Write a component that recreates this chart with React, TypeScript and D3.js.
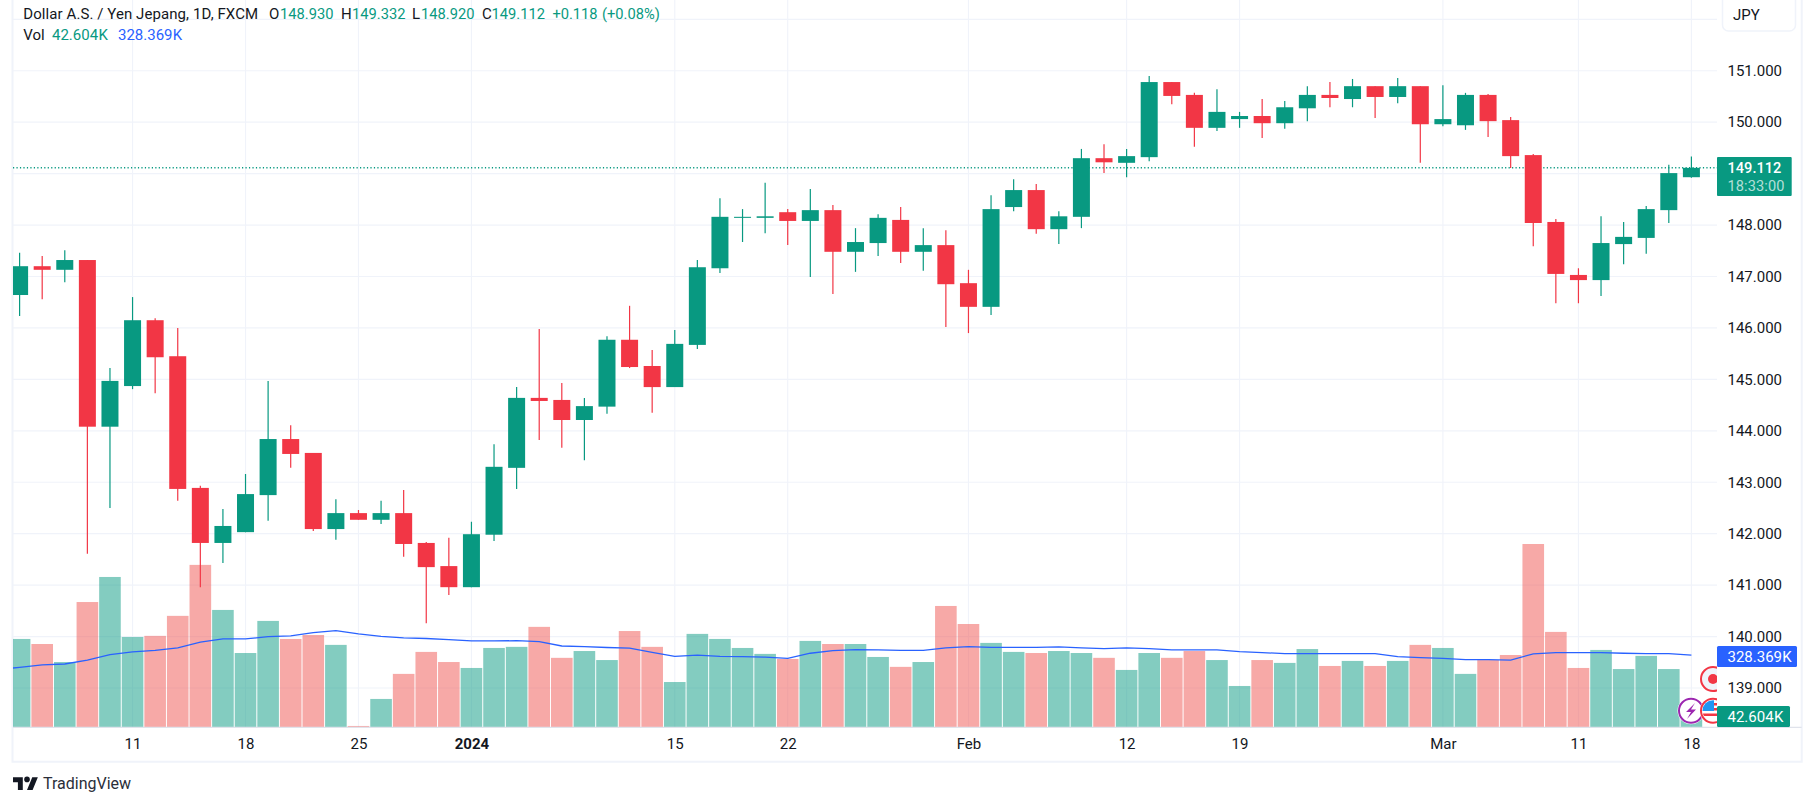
import * as d3 from "d3";
import { useEffect, useRef } from "react";

// daily bars, 4 Dec 2023 .. 18 Mar 2024
const opens = [146.64,147.2,147.13,147.32,144.08,144.87,146.15,145.45,142.89,141.82,142.03,142.75,143.84,143.57,142.09,142.4,142.27,142.4,141.82,141.37,140.96,141.98,143.28,144.64,144.6,144.21,144.47,145.77,145.26,144.85,145.67,147.16,148.14,148.14,148.25,148.08,148.29,147.48,147.65,148.1,147.48,147.61,146.87,146.41,148.35,148.68,147.92,148.16,149.3,149.21,149.32,150.78,150.53,149.89,150.06,150.12,149.98,150.27,150.53,150.45,150.7,150.49,150.7,149.96,149.94,150.53,150.04,149.36,148.06,147.03,146.93,147.63,147.75,148.29,148.93];
const closes = [147.2,147.13,147.32,144.08,144.97,146.15,145.43,142.87,141.82,142.15,142.77,143.84,143.55,142.09,142.4,142.27,142.4,141.8,141.35,140.96,141.99,143.3,144.64,144.58,144.21,144.48,145.77,145.24,144.85,145.69,147.18,148.16,148.16,148.17,148.08,148.29,147.48,147.67,148.14,147.48,147.61,146.85,146.41,148.31,148.68,147.92,148.17,149.3,149.22,149.34,150.78,150.51,149.89,150.2,150.12,149.98,150.29,150.53,150.47,150.7,150.49,150.7,149.96,150.06,150.53,150.02,149.34,148.04,147.05,146.93,147.65,147.77,148.31,149.01,149.112];
const highs = [147.46,147.4,147.51,147.32,145.22,146.6,146.19,146,142.93,142.48,143.16,144.97,144.11,143.57,142.67,142.46,142.64,142.85,141.84,141.92,142.23,143.74,144.85,145.98,144.93,144.64,145.84,146.43,145.57,145.96,147.32,148.52,148.31,148.82,148.31,148.7,148.39,147.94,148.21,148.35,147.94,147.9,147.13,148.58,148.89,148.8,148.27,149.48,149.57,149.48,150.9,150.78,150.57,150.64,150.2,150.45,150.41,150.7,150.78,150.84,150.7,150.86,150.7,150.72,150.57,150.55,150.1,149.38,148.12,147.16,148.17,148.06,148.37,149.17,149.332];
const lows = [146.23,146.56,146.89,141.61,142.5,144.81,144.73,142.64,140.96,141.43,142.03,142.25,143.28,142.05,141.88,142.27,142.19,141.55,140.26,140.81,140.96,141.86,142.87,143.82,143.67,143.43,144.33,145.22,144.35,144.85,145.59,147.07,147.67,147.84,147.61,146.99,146.66,147.09,147.4,147.26,147.11,146.02,145.9,146.25,148.27,147.83,147.63,147.94,149.01,148.93,149.24,150.35,149.52,149.83,149.89,149.69,149.87,150.02,150.29,150.29,150.08,150.37,149.21,149.92,149.85,149.71,149.11,147.59,146.48,146.48,146.62,147.24,147.44,148.04,148.92];
const volumes = [402,379,297,570,684,411,416,507,739,534,338,484,402,420,375,6,129,243,343,297,270,361,366,457,316,347,306,438,366,206,425,402,361,334,311,393,379,379,320,275,297,552,470,384,343,338,347,338,316,261,338,316,347,306,188,306,293,356,279,302,279,302,375,361,243,306,329,834,434,270,352,265,325,265,42.604];
// first value belongs to the bar just left of the visible range
const volumeMa = [262,273,284,288,306,331,343,350,361,388,402,402,413,416,431,440,425,414,407,404,399,393,393,394,390,370,367,363,360,341,323,328,323,322,319,314,337,349,353,352,350,350,361,367,364,364,364,366,361,358,361,358,352,352,352,344,340,335,335,335,335,335,322,317,314,308,308,306,334,340,340,340,337,335,335,328.369];

const timeTickBars = [5, 10, 15, 20, 29, 34, 42, 49, 54, 63, 69, 74];
const timeTickLabels = ["11", "18", "25", "2024", "15", "22", "Feb", "12", "19", "Mar", "11", "18"];
const priceGrid = [139,140,141,142,143,144,145,146,147,148,149,150,151,152];
const priceTicks = [139,140,141,142,143,144,145,146,147,148,149,150,151];

const legendName = "Dollar A.S. / Yen Jepang, 1D, FXCM";
const legendOhlc: [string, string][] = [["O", "148.930"], ["H", "149.332"], ["L", "148.920"], ["C", "149.112"]];
const lastPrice = 149.112;

const WIDTH = 1815;
const HEIGHT = 806;
const FONT = "Roboto, sans-serif";
const GREEN = "#089981";
const RED = "#F23645";
const BLUE = "#2962FF";
const TEXT = "#131722";
const GRID = "#f0f3fa";

export default function App() {
  const ref = useRef<SVGSVGElement | null>(null);

  useEffect(() => {
    const plot = { left: 13, right: 1717, bottom: 727.3, frameBottom: 761.7, frameRight: 1801.7 };
    const root = d3.select(ref.current);
    root.selectAll("*").remove();

    const x = d3.scaleLinear().domain([0, 74]).range([19.6, 1691.4]);
    const y = d3.scaleLinear().domain([152, 139]).range([19.3, 688]);
    const v = d3.scaleLinear().domain([0, 834]).range([plot.bottom, plot.bottom - 834 / 4.55]);
    const isUp = (i: number) => closes[i] >= opens[i];

    root
      .append("clipPath")
      .attr("id", "plot-clip")
      .append("rect")
      .attr("x", plot.left)
      .attr("y", 0)
      .attr("width", plot.right - plot.left)
      .attr("height", plot.bottom);

    // frame
    root
      .append("path")
      .attr("d", `M${plot.left - 0.5},0V${plot.frameBottom}H${plot.frameRight}V0`)
      .attr("fill", "none")
      .attr("stroke", GRID)
      .attr("stroke-width", 2);

    const g = root.append("g").attr("clip-path", "url(#plot-clip)");

    // grid
    g.selectAll(".h-grid")
      .data(priceGrid)
      .join("line")
      .attr("x1", plot.left)
      .attr("x2", plot.right)
      .attr("y1", (d) => y(d))
      .attr("y2", (d) => y(d))
      .attr("stroke", GRID)
      .attr("stroke-width", 1.15);
    g.selectAll(".v-grid")
      .data(timeTickBars)
      .join("line")
      .attr("x1", (d) => x(d))
      .attr("x2", (d) => x(d))
      .attr("y1", 0)
      .attr("y2", plot.bottom)
      .attr("stroke", GRID)
      .attr("stroke-width", 1.15);

    // volume
    g.selectAll(".vol")
      .data(volumes)
      .join("rect")
      .attr("x", (_, i) => x(i) - 10.8)
      .attr("width", 21.6)
      .attr("y", (d) => v(d))
      .attr("height", (d) => plot.bottom - v(d))
      .attr("fill", (_, i) => (isUp(i) ? "rgba(8,153,129,0.5)" : "rgba(239,83,80,0.5)"));

    const maLine = d3
      .line<number>()
      .x((_, i) => x(i - 1))
      .y((d) => v(d));
    g.append("path")
      .datum(volumeMa)
      .attr("d", maLine)
      .attr("fill", "none")
      .attr("stroke", BLUE)
      .attr("stroke-width", 1.3);

    // last price line
    g.append("line")
      .attr("x1", plot.left)
      .attr("x2", plot.right)
      .attr("y1", y(lastPrice))
      .attr("y2", y(lastPrice))
      .attr("stroke", GREEN)
      .attr("stroke-width", 1.5)
      .attr("stroke-dasharray", "1.2 2.27");

    // candles
    const candles = g.selectAll(".candle").data(opens).join("g");
    candles
      .append("line")
      .attr("x1", (_, i) => x(i))
      .attr("x2", (_, i) => x(i))
      .attr("y1", (_, i) => y(highs[i]))
      .attr("y2", (_, i) => y(lows[i]))
      .attr("stroke", (_, i) => (isUp(i) ? GREEN : RED))
      .attr("stroke-width", 1.2);
    candles
      .append("rect")
      .attr("x", (_, i) => x(i) - 8.5)
      .attr("width", 17)
      .attr("y", (d, i) => y(Math.max(d, closes[i])))
      .attr("height", (d, i) => Math.max(1, Math.abs(y(d) - y(closes[i]))))
      .attr("fill", (_, i) => (isUp(i) ? GREEN : RED));

    // event marks on the last bars
    const mark = (cx: number, cy: number, stroke: string, fill: string) =>
      g
        .append("circle")
        .attr("cx", cx)
        .attr("cy", cy)
        .attr("r", 12)
        .attr("fill", fill)
        .attr("stroke", stroke)
        .attr("stroke-width", 2);
    g.append("circle").attr("cx", 1713).attr("cy", 679).attr("r", 14).attr("fill", "#fff");
    mark(1713, 679, RED, "#f0f3fa");
    g.append("circle").attr("cx", 1713).attr("cy", 679).attr("r", 5).attr("fill", RED);

    g.append("circle").attr("cx", 1691).attr("cy", 710.7).attr("r", 13.5).attr("fill", "#fff");
    mark(1691, 710.7, "#9C27B0", "#fff");
    g.append("path")
      .attr("d", "M1695,703 L1686,712 L1691,712 L1687,719 L1696,709.5 L1691,709.5 Z")
      .attr("fill", "#9C27B0");

    g.append("circle").attr("cx", 1713).attr("cy", 710.7).attr("r", 13.5).attr("fill", "#fff");
    mark(1713, 710.7, RED, "#fff");
    g.append("clipPath")
      .attr("id", "flag-clip")
      .append("circle")
      .attr("cx", 1713)
      .attr("cy", 710.7)
      .attr("r", 10.5);
    const flag = g.append("g").attr("clip-path", "url(#flag-clip)");
    flag.append("rect").attr("x", 1702).attr("y", 700).attr("width", 12).attr("height", 11).attr("fill", "#2196F3");
    flag.append("rect").attr("x", 1702).attr("y", 713.5).attr("width", 22).attr("height", 2.5).attr("fill", RED);
    flag.append("rect").attr("x", 1714).attr("y", 703).attr("width", 10).attr("height", 2.5).attr("fill", RED);
    flag.append("rect").attr("x", 1714).attr("y", 708).attr("width", 10).attr("height", 2.5).attr("fill", RED);

    // axes
    const priceAxis = root
      .append("g")
      .attr("transform", `translate(${plot.right},0)`)
      .call(
        d3
          .axisRight(y)
          .tickValues(priceTicks)
          .tickSize(0)
          .tickPadding(10.5)
          .tickFormat((d) => d3.format(".3f")(d as number))
      );
    priceAxis.select(".domain").remove();
    priceAxis.selectAll("text").attr("font-family", FONT).attr("font-size", 15).attr("fill", TEXT);

    const timeAxis = root
      .append("g")
      .attr("transform", `translate(0,${plot.bottom})`)
      .call(
        d3
          .axisBottom(x)
          .tickValues(timeTickBars)
          .tickSize(0)
          .tickPadding(11)
          .tickFormat((_, i) => timeTickLabels[i])
      );
    timeAxis.select(".domain").remove();
    timeAxis
      .selectAll("text")
      .attr("font-family", FONT)
      .attr("font-size", 15)
      .attr("fill", TEXT)
      .attr("font-weight", (_, i) => (timeTickLabels[i] === "2024" ? 700 : 400));

    root
      .append("line")
      .attr("x1", plot.left)
      .attr("x2", plot.frameRight)
      .attr("y1", plot.bottom)
      .attr("y2", plot.bottom)
      .attr("stroke", "#e0e3eb")
      .attr("stroke-width", 1.15);

    const label = (
      str: string,
      lx: number,
      ly: number,
      fill: string,
      opts: { size?: number; weight?: number; opacity?: number; tight?: boolean; spacing?: number } = {}
    ) =>
      root
        .append("text")
        .attr("x", lx)
        .attr("y", ly)
        .attr("dy", "0.35em")
        .attr("font-family", FONT)
        .attr("font-size", opts.size ?? 15)
        .attr("font-weight", opts.weight ?? 400)
        .attr("fill", fill)
        .attr("fill-opacity", opts.opacity ?? 1)
        .attr("word-spacing", opts.tight ? -3.4 : 0)
        .attr("letter-spacing", opts.spacing ?? 0)
        .text(str);

    // price tags
    root.append("rect").attr("x", plot.right).attr("y", 157).attr("width", 74.7).attr("height", 39).attr("rx", 1).attr("fill", GREEN);
    label(d3.format(".3f")(lastPrice), 1727.5, 167.4, "#fff", { size: 14.6, weight: 500 });
    label("18:33:00", 1727.5, 185.9, "#fff", { size: 14.6, opacity: 0.7, spacing: 0.1 });
    root.append("rect").attr("x", plot.right).attr("y", 646).attr("width", 80).attr("height", 21).attr("rx", 1.5).attr("fill", BLUE);
    label("328.369 K", 1727.5, 656.7, "#fff", { tight: true });
    root.append("rect").attr("x", plot.right).attr("y", 706).attr("width", 73).attr("height", 21).attr("rx", 1.5).attr("fill", GREEN);
    label("42.604 K", 1727.5, 716.7, "#fff", { tight: true });

    // currency button
    root.append("rect").attr("x", 1722.5).attr("y", -6).attr("width", 73).attr("height", 37).attr("rx", 6).attr("fill", "#fff").attr("stroke", GRID).attr("stroke-width", 1.5);
    label("JPY", 1733, 15, TEXT);

    // legend
    label(legendName, 23.3, 14, TEXT, { spacing: 0.08 });
    const legendX = [269, 341, 412, 482];
    const legendGap = [11, 11, 9, 9.5];
    legendOhlc.forEach(([k, val], i) => {
      label(k, legendX[i], 14, TEXT);
      label(val, legendX[i] + legendGap[i], 14, GREEN, { size: 14.7 });
    });
    label("+0.118", 552.4, 14, GREEN, { size: 14.7 });
    label("(+0.08%)", 602, 14, GREEN, { size: 14.7 });
    label("Vol", 23.3, 35, TEXT);
    label("42.604 K", 52, 35, GREEN, { tight: true });
    label("328.369 K", 118, 35, BLUE, { tight: true });

    // logo
    const logo = root.append("g").attr("transform", "translate(13,774.5) scale(0.7)").attr("fill", TEXT);
    logo.append("path").attr("d", "M14 22H7V11H0V4h14v18zM28 22h-8l7.5-18h8L28 22z");
    logo.append("circle").attr("cx", 20).attr("cy", 7).attr("r", 4);
    label("TradingView", 43, 783.5, "#2a2e39", { size: 16 });
  }, []);

  return (
    <svg
      ref={ref}
      width={WIDTH}
      height={HEIGHT}
      style={{ position: "absolute", left: 0, top: 0, display: "block", background: "#fff" }}
    />
  );
}
